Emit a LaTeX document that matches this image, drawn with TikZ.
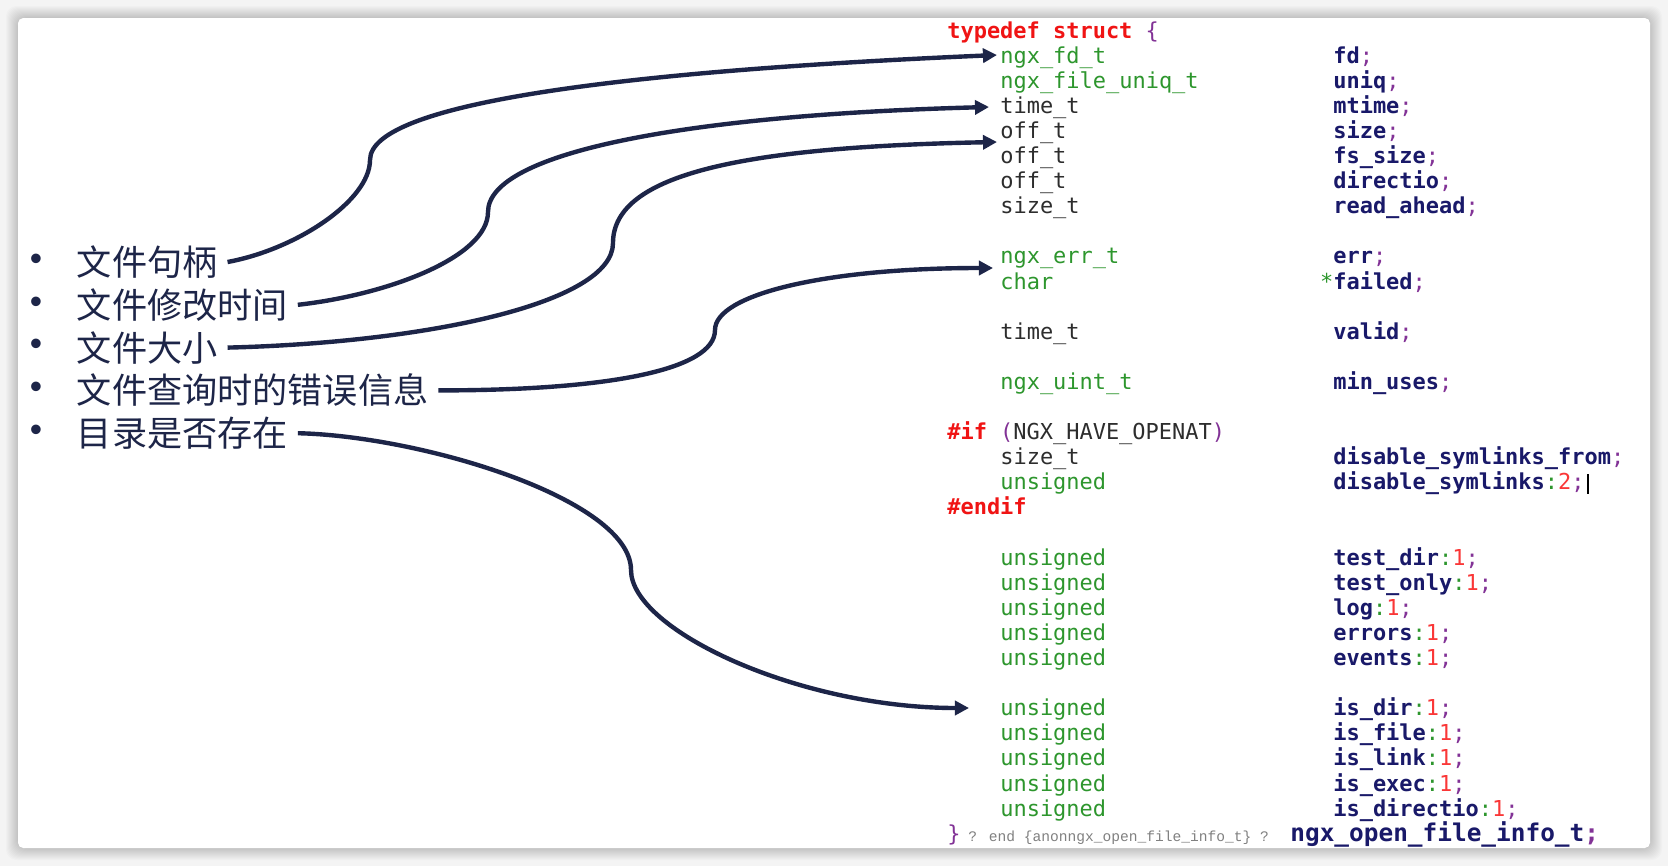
\documentclass[tikz,border=0pt]{standalone}
\usepackage{fontspec}
\setmonofont{DejaVu Sans Mono}
\newfontfamily\cjk{Noto Sans CJK SC}
\newfontfamily\graymono{Liberation Mono}
\newfontfamily\bulfont{Liberation Sans}
\usetikzlibrary{arrows.meta}
\definecolor{navy}{RGB}{29,37,72}
\definecolor{kw}{RGB}{240,20,20}
\definecolor{gty}{RGB}{45,150,45}
\definecolor{dty}{RGB}{45,45,45}
\definecolor{fld}{RGB}{25,25,105}
\definecolor{pu}{RGB}{130,50,150}
\definecolor{num}{RGB}{250,55,55}
\definecolor{bg}{RGB}{244,244,244}
\newcommand\gty[1]{\textcolor{gty}{#1}}
\newcommand\dty[1]{\textcolor{dty}{#1}}
\newcommand\fld[1]{{\bfseries\color{fld}#1}\textcolor{pu}{;}}
\newcommand\bitfld[2]{{\bfseries\color{fld}#1}\textcolor{gty}{:}\textcolor{num}{#2}\textcolor{pu}{;}}
\tikzset{
  code/.style={anchor=base west,inner sep=0pt,font=\ttfamily\fontsize{12.5}{15}\selectfont},
  item/.style={anchor=west,inner sep=0pt,outer xsep=0.2cm,text=navy,font=\cjk\fontsize{20}{24}\selectfont},
  bul/.style={inner sep=0pt,text=navy,font=\bulfont\fontsize{20}{22}\selectfont},
  link/.style={draw=navy,line width=2.5pt,->},
}
\begin{document}
\begin{tikzpicture}[x=0.02cm,y=-0.02cm,>={Triangle[length=8pt,width=8pt]}]
\useasboundingbox (0,0) rectangle (1668,866);
\fill[bg] (0,0) rectangle (1668,866);
\foreach \s in {1,...,12}
  \fill[black,opacity=0.014,rounded corners=6pt] (18-\s,18-\s) rectangle (1650+\s,848+\s);
\fill[white,rounded corners=3pt] (18,18) rectangle (1650,848);
\foreach \y/\nm/\ytext in {0/handle/文件句柄,1/mtime/文件修改时间,2/size/文件大小,3/errinfo/文件查询时的错误信息,4/direxist/目录是否存在}
{
    \node[bul] (b\nm) at (36,262+42.8*\y) {•};
    \node[item] (\nm) at (67,262+42.8*\y) {\ytext};
}
\node[code] (head) at (947,38) {\textcolor{kw}{\bfseries typedef struct} \textcolor{pu}{\{}};
\foreach \y/\ty/\fd in {1/\gty{ngx\_fd\_t}/\fld{fd},2/\gty{ngx\_file\_uniq\_t}/\fld{uniq},3/\dty{time\_t}/\fld{mtime},
  4/\dty{off\_t}/\fld{size},5/\dty{off\_t}/\fld{fs\_size},6/\dty{off\_t}/\fld{directio},7/\dty{size\_t}/\fld{read\_ahead},
  9/\gty{ngx\_err\_t}/\fld{err},10/\gty{char}/\llap{\textcolor{gty}{*}}\fld{failed},12/\dty{time\_t}/\fld{valid},
  14/\gty{ngx\_uint\_t}/\fld{min\_uses},17/\dty{size\_t}/\fld{disable\_symlinks\_from},18/\gty{unsigned}/\bitfld{disable\_symlinks}{2},
  21/\gty{unsigned}/\bitfld{test\_dir}{1},22/\gty{unsigned}/\bitfld{test\_only}{1},23/\gty{unsigned}/\bitfld{log}{1},
  24/\gty{unsigned}/\bitfld{errors}{1},25/\gty{unsigned}/\bitfld{events}{1},27/\gty{unsigned}/\bitfld{is\_dir}{1},
  28/\gty{unsigned}/\bitfld{is\_file}{1},29/\gty{unsigned}/\bitfld{is\_link}{1},30/\gty{unsigned}/\bitfld{is\_exec}{1},
  31/\gty{unsigned}/\bitfld{is\_directio}{1}}
{
    \node[code] (t\y) at (1000,38+25.1*\y) {\ty};
    \node[code] (f\y) at (1333,38+25.1*\y) {\fd};
}
\node[code] (ifdef) at (947,38+25.1*16) {\textcolor{kw}{\bfseries\#if} \textcolor{pu}{(}\textcolor{dty}{NGX\_HAVE\_OPENAT}\textcolor{pu}{)}};
\node[code] (endif) at (947,38+25.1*19) {\textcolor{kw}{\bfseries\#endif}};
\node[code] (close) at (947,841) {\textcolor{pu}{\}}};
\node[code,text=gray,font=\graymono\fontsize{8.3}{10}\selectfont] (anon) at (968,841) {? end \{anonngx\_open\_file\_info\_t\} ?};
\node[code,font=\ttfamily\bfseries\fontsize{13.9}{16}\selectfont] (tname) at (1290,841) {\textcolor{fld}{ngx\_open\_file\_info\_t}\textcolor{pu}{;}};
\draw[line width=1.6pt] (1588,474)--(1588,494);
\coordinate (m1) at (370,160);
\coordinate (m2) at (488,212);
\coordinate (m3) at (613,243);
\coordinate (m4) at (715,330);
\coordinate (m5) at (631,570);
\coordinate (p1) at (997,55);
\coordinate (p2) at (989,107);
\coordinate (p3) at (997,142);
\coordinate (p4) at (993,268);
\coordinate (p5) at (969,708);
\draw[link] (handle.east) .. controls +(70,-13) and +(0,40) .. (m1) .. controls +(0,-60) and +(-347,15) .. (p1);
\draw[link] (mtime.east) .. controls +(90,-10) and +(0,45) .. (m2) .. controls +(0,-60) and +(-300,8) .. (p2);
\draw[link] (size.east) .. controls +(200,-5) and +(0,60) .. (m3) .. controls +(0,-70) and +(-250,5) .. (p3);
\draw[link] (errinfo.east) .. controls +(170,0) and +(0,40) .. (m4) .. controls +(0,-35) and +(-170,0) .. (p4);
\draw[link] (direxist.east) .. controls +(126,3) and +(0,-70) .. (m5) .. controls +(0,60) and +(-170,0) .. (p5);
\end{tikzpicture}
\end{document}
